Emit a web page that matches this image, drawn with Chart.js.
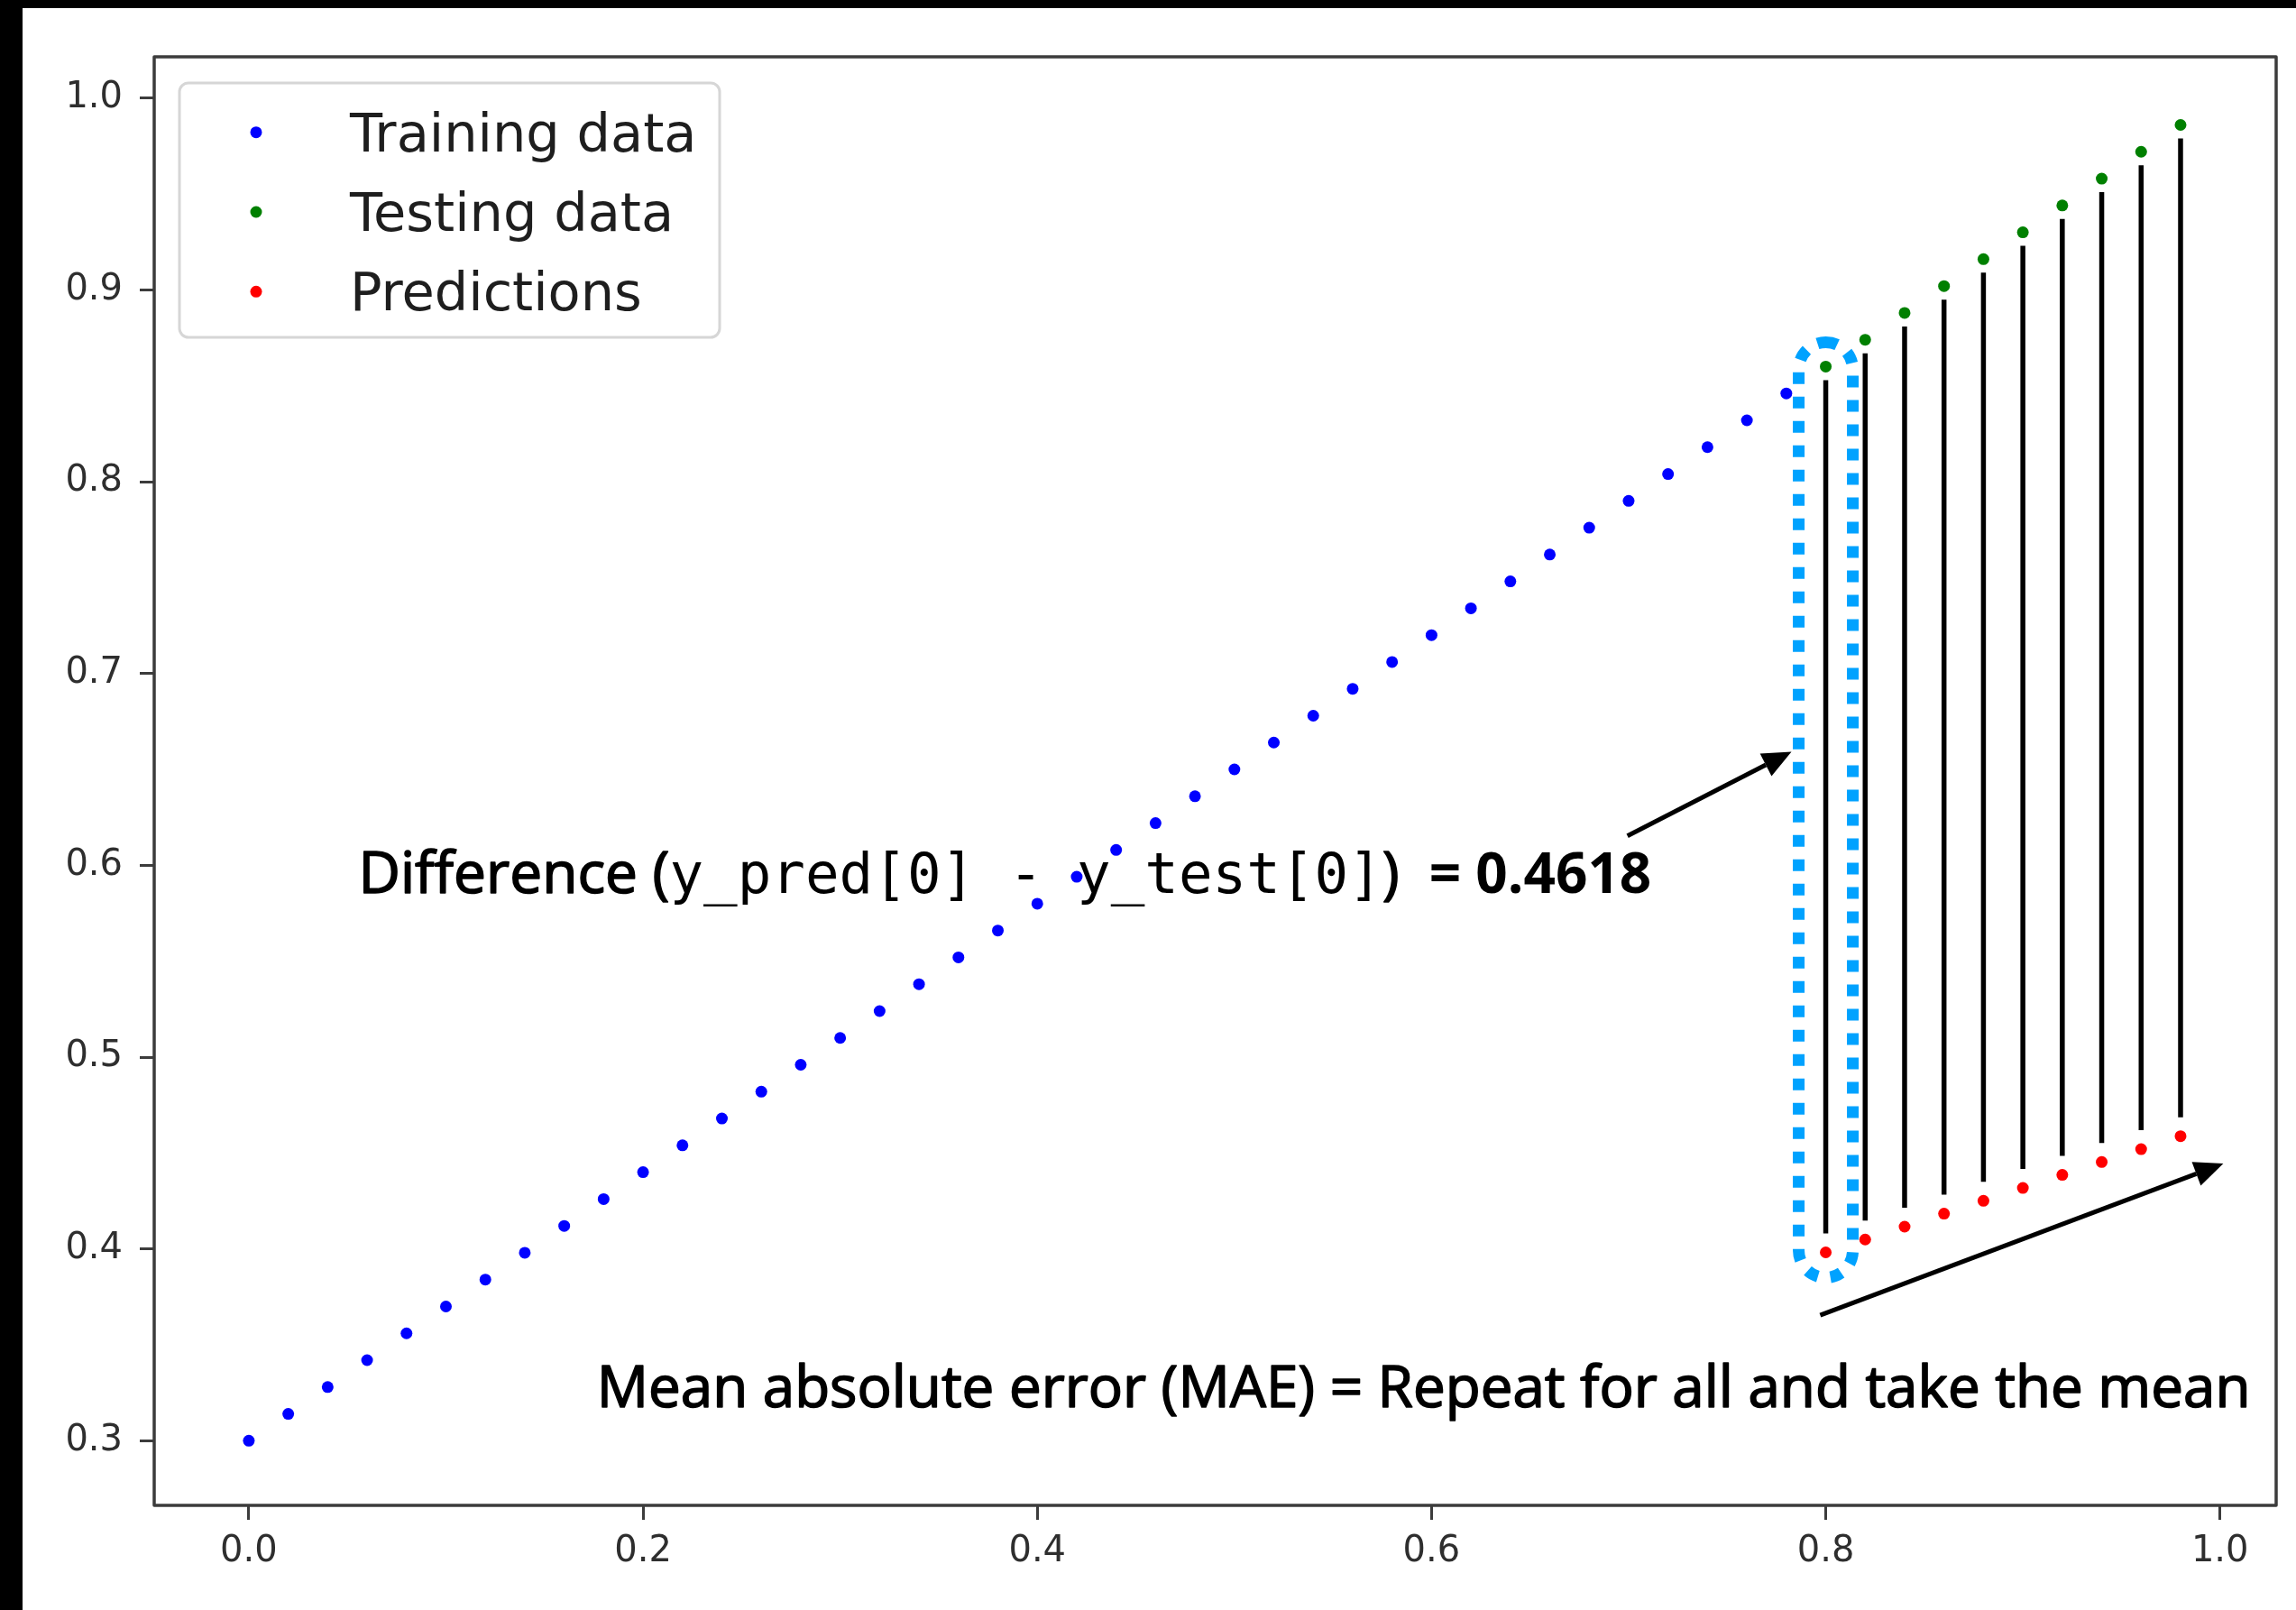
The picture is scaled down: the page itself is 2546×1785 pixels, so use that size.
<!DOCTYPE html>
<html>
<head>
<meta charset="utf-8">
<script src="https://cdn.jsdelivr.net/npm/chart.js@4.4.1/dist/chart.umd.min.js"></script>
<style>
  html, body { margin: 0; padding: 0; background: #000; }
  body { width: 2546px; height: 1785px; overflow: hidden; position: relative; }
  #wrap { position: absolute; left: 25px; top: 9px; width: 2521px; height: 1776px; background: #fff; }
</style>
</head>
<body>
<div id="wrap"><canvas id="chart"></canvas></div>
<script>
// values
const trainX = [0.00, 0.02, 0.04, 0.06, 0.08, 0.10, 0.12, 0.14, 0.16, 0.18,
                0.20, 0.22, 0.24, 0.26, 0.28, 0.30, 0.32, 0.34, 0.36, 0.38,
                0.40, 0.42, 0.44, 0.46, 0.48, 0.50, 0.52, 0.54, 0.56, 0.58,
                0.60, 0.62, 0.64, 0.66, 0.68, 0.70, 0.72, 0.74, 0.76, 0.78]
const trainY = [0.300, 0.314, 0.328, 0.342, 0.356, 0.370, 0.384, 0.398, 0.412, 0.426,
                0.440, 0.454, 0.468, 0.482, 0.496, 0.510, 0.524, 0.538, 0.552, 0.566,
                0.580, 0.594, 0.608, 0.622, 0.636, 0.650, 0.664, 0.678, 0.692, 0.706,
                0.720, 0.734, 0.748, 0.762, 0.776, 0.790, 0.804, 0.818, 0.832, 0.846]
const testX = [0.80, 0.82, 0.84, 0.86, 0.88, 0.90, 0.92, 0.94, 0.96, 0.98]
const testY = [0.860, 0.874, 0.888, 0.902, 0.916, 0.930, 0.944, 0.958, 0.972, 0.986]
const predY = [0.3982, 0.4049, 0.4116, 0.4184, 0.4251, 0.4318, 0.4386, 0.4453, 0.4520, 0.4588]
const xTicks = [0.0, 0.2, 0.4, 0.6, 0.8, 1.0]
const yTicks = [0.3, 0.4, 0.5, 0.6, 0.7, 0.8, 0.9, 1.0]
const seriesNames = ['Training data', 'Testing data', 'Predictions']
const seriesColors = ['#0000ff', '#008000', '#ff0000']

// annotation anchors (data coords)
const arrows = [
  {from: [0.6994, 0.6153], to: [0.7826, 0.6592]},
  {from: [0.7972, 0.3655], to: [1.0017, 0.4445]}
]
const SANS = '"Open Sans", "Noto Sans", sans-serif'
const MONO = '"DejaVu Sans Mono", monospace'
const texts = [
  {at: [0.0556, 0.5855], parts: [
    {t: 'Difference (', font: '64px ' + SANS, heavy: 1.6},
    {t: 'y_pred[0] - y_test[0]', font: '62.5px ' + MONO, heavy: 0},
    {t: ')  ', font: '64px ' + SANS, heavy: 1.6},
    {t: '= 0.4618', font: 'bold 62px ' + SANS, heavy: 0}
  ]},
  {at: [0.1765, 0.3177], parts: [
    {t: 'Mean absolute error (MAE) = Repeat for all and take the mean', font: '63.7px ' + SANS, heavy: 1.6}
  ]}
]

function pts(xs, ys){
  return xs.map((x, i) => ({x: x, y: ys[i]}))
}

function drawArrow(ctx, x1, y1, x2, y2){
  const ang = Math.atan2(y2 - y1, x2 - x1)
  const headLen = 32, headW = 14
  const bx = x2 - Math.cos(ang) * headLen
  const by = y2 - Math.sin(ang) * headLen
  ctx.beginPath()
  ctx.moveTo(x1, y1)
  ctx.lineTo(bx, by)
  ctx.stroke()
  ctx.beginPath()
  ctx.moveTo(x2, y2)
  ctx.lineTo(bx + Math.sin(ang) * headW, by - Math.cos(ang) * headW)
  ctx.lineTo(bx - Math.sin(ang) * headW, by + Math.cos(ang) * headW)
  ctx.closePath()
  ctx.fill()
}

const overlay = {
  id: 'overlay',
  afterDatasetsDraw(chart){
    const {ctx, chartArea} = chart
    const xs = chart.scales.x, ys = chart.scales.y
    ctx.save()

    // error lines test -> prediction
    ctx.strokeStyle = '#000'
    ctx.lineWidth = 5.5
    ctx.lineCap = 'butt'
    testX.forEach((x, i) => {
      const px = xs.getPixelForValue(x)
      ctx.beginPath()
      ctx.moveTo(px, ys.getPixelForValue(testY[i]) + 15)
      ctx.lineTo(px, ys.getPixelForValue(predY[i]) - 21)
      ctx.stroke()
    })

    // dotted box around the first test/pred pair
    const cx = xs.getPixelForValue(testX[0])
    const top = ys.getPixelForValue(testY[0]) - 27
    const bottom = ys.getPixelForValue(predY[0]) + 28
    ctx.strokeStyle = '#00A2FF'
    ctx.lineWidth = 13
    ctx.setLineDash([13, 14])
    ctx.beginPath()
    ctx.roundRect(cx - 30, top, 60, bottom - top, 30)
    ctx.stroke()
    ctx.setLineDash([])

    // arrows
    ctx.strokeStyle = '#000'
    ctx.fillStyle = '#000'
    ctx.lineWidth = 5
    arrows.forEach(a => {
      drawArrow(ctx,
        xs.getPixelForValue(a.from[0]), ys.getPixelForValue(a.from[1]),
        xs.getPixelForValue(a.to[0]), ys.getPixelForValue(a.to[1]))
    })

    // text annotations
    ctx.textBaseline = 'alphabetic'
    ctx.textAlign = 'left'
    ctx.lineJoin = 'round'
    texts.forEach(tx => {
      let x = xs.getPixelForValue(tx.at[0])
      const y = ys.getPixelForValue(tx.at[1])
      tx.parts.forEach(p => {
        ctx.font = p.font
        ctx.fillText(p.t, x, y)
        if (p.heavy) {
          ctx.lineWidth = p.heavy
          ctx.strokeText(p.t, x, y)
        }
        x += ctx.measureText(p.t).width
      })
    })

    // axes frame
    ctx.strokeStyle = '#3c3c3c'
    ctx.lineWidth = 3.5
    ctx.strokeRect(chartArea.left, chartArea.top, chartArea.right - chartArea.left, chartArea.bottom - chartArea.top)

    // legend box inside the axes
    const lx = chartArea.left + 28, ly = chartArea.top + 29
    ctx.fillStyle = '#fff'
    ctx.strokeStyle = '#d6d6d6'
    ctx.lineWidth = 3
    ctx.beginPath()
    ctx.roundRect(lx, ly, 599, 282, 10)
    ctx.fill()
    ctx.stroke()
    ctx.font = '59px "DejaVu Sans"'
    chart.data.datasets.forEach((ds, i) => {
      const my = ly + 54.7 + i * 88.3
      ctx.fillStyle = ds.backgroundColor
      ctx.beginPath()
      ctx.arc(lx + 85, my, 6.5, 0, Math.PI * 2)
      ctx.fill()
      ctx.fillStyle = '#1e1e1e'
      ctx.fillText(ds.label, lx + 189, my + 21)
    })
    ctx.restore()
  }
}

const tickFont = {family: '"DejaVu Sans"', size: 40}

new Chart(document.getElementById('chart'), {
  type: 'scatter',
  data: {
    datasets: [
      {label: seriesNames[0], data: pts(trainX, trainY), backgroundColor: seriesColors[0]},
      {label: seriesNames[1], data: pts(testX, testY), backgroundColor: seriesColors[1]},
      {label: seriesNames[2], data: pts(testX, predY), backgroundColor: seriesColors[2]}
    ]
  },
  options: {
    responsive: true,
    maintainAspectRatio: false,
    devicePixelRatio: 1,
    animation: false,
    layout: {padding: {left: 0, top: 54, right: 22, bottom: 0}},
    elements: {point: {radius: 6.5, borderWidth: 0, hoverRadius: 6.5}},
    plugins: {legend: {display: false}, tooltip: {enabled: false}},
    scales: {
      x: {
        type: 'linear',
        min: -0.048,
        max: 1.0285,
        afterBuildTicks: s => { s.ticks = xTicks.map(v => ({value: v})) },
        afterFit: s => { s.height = 116 },
        border: {display: false},
        grid: {drawOnChartArea: false, drawTicks: true, tickLength: 16, tickWidth: 3, tickColor: '#3c3c3c'},
        ticks: {font: tickFont, color: '#2e2e2e', padding: 12, maxRotation: 0, autoSkip: false,
                callback: v => v.toFixed(1)}
      },
      y: {
        type: 'linear',
        min: 0.2663,
        max: 1.0215,
        afterBuildTicks: s => { s.ticks = yTicks.map(v => ({value: v})) },
        afterFit: s => { s.width = 146 },
        border: {display: false},
        grid: {drawOnChartArea: false, drawTicks: true, tickLength: 16, tickWidth: 3, tickColor: '#3c3c3c'},
        ticks: {font: tickFont, color: '#2e2e2e', padding: 19, autoSkip: false,
                callback: v => v.toFixed(1)}
      }
    }
  },
  plugins: [overlay]
})
</script>
</body>
</html>
